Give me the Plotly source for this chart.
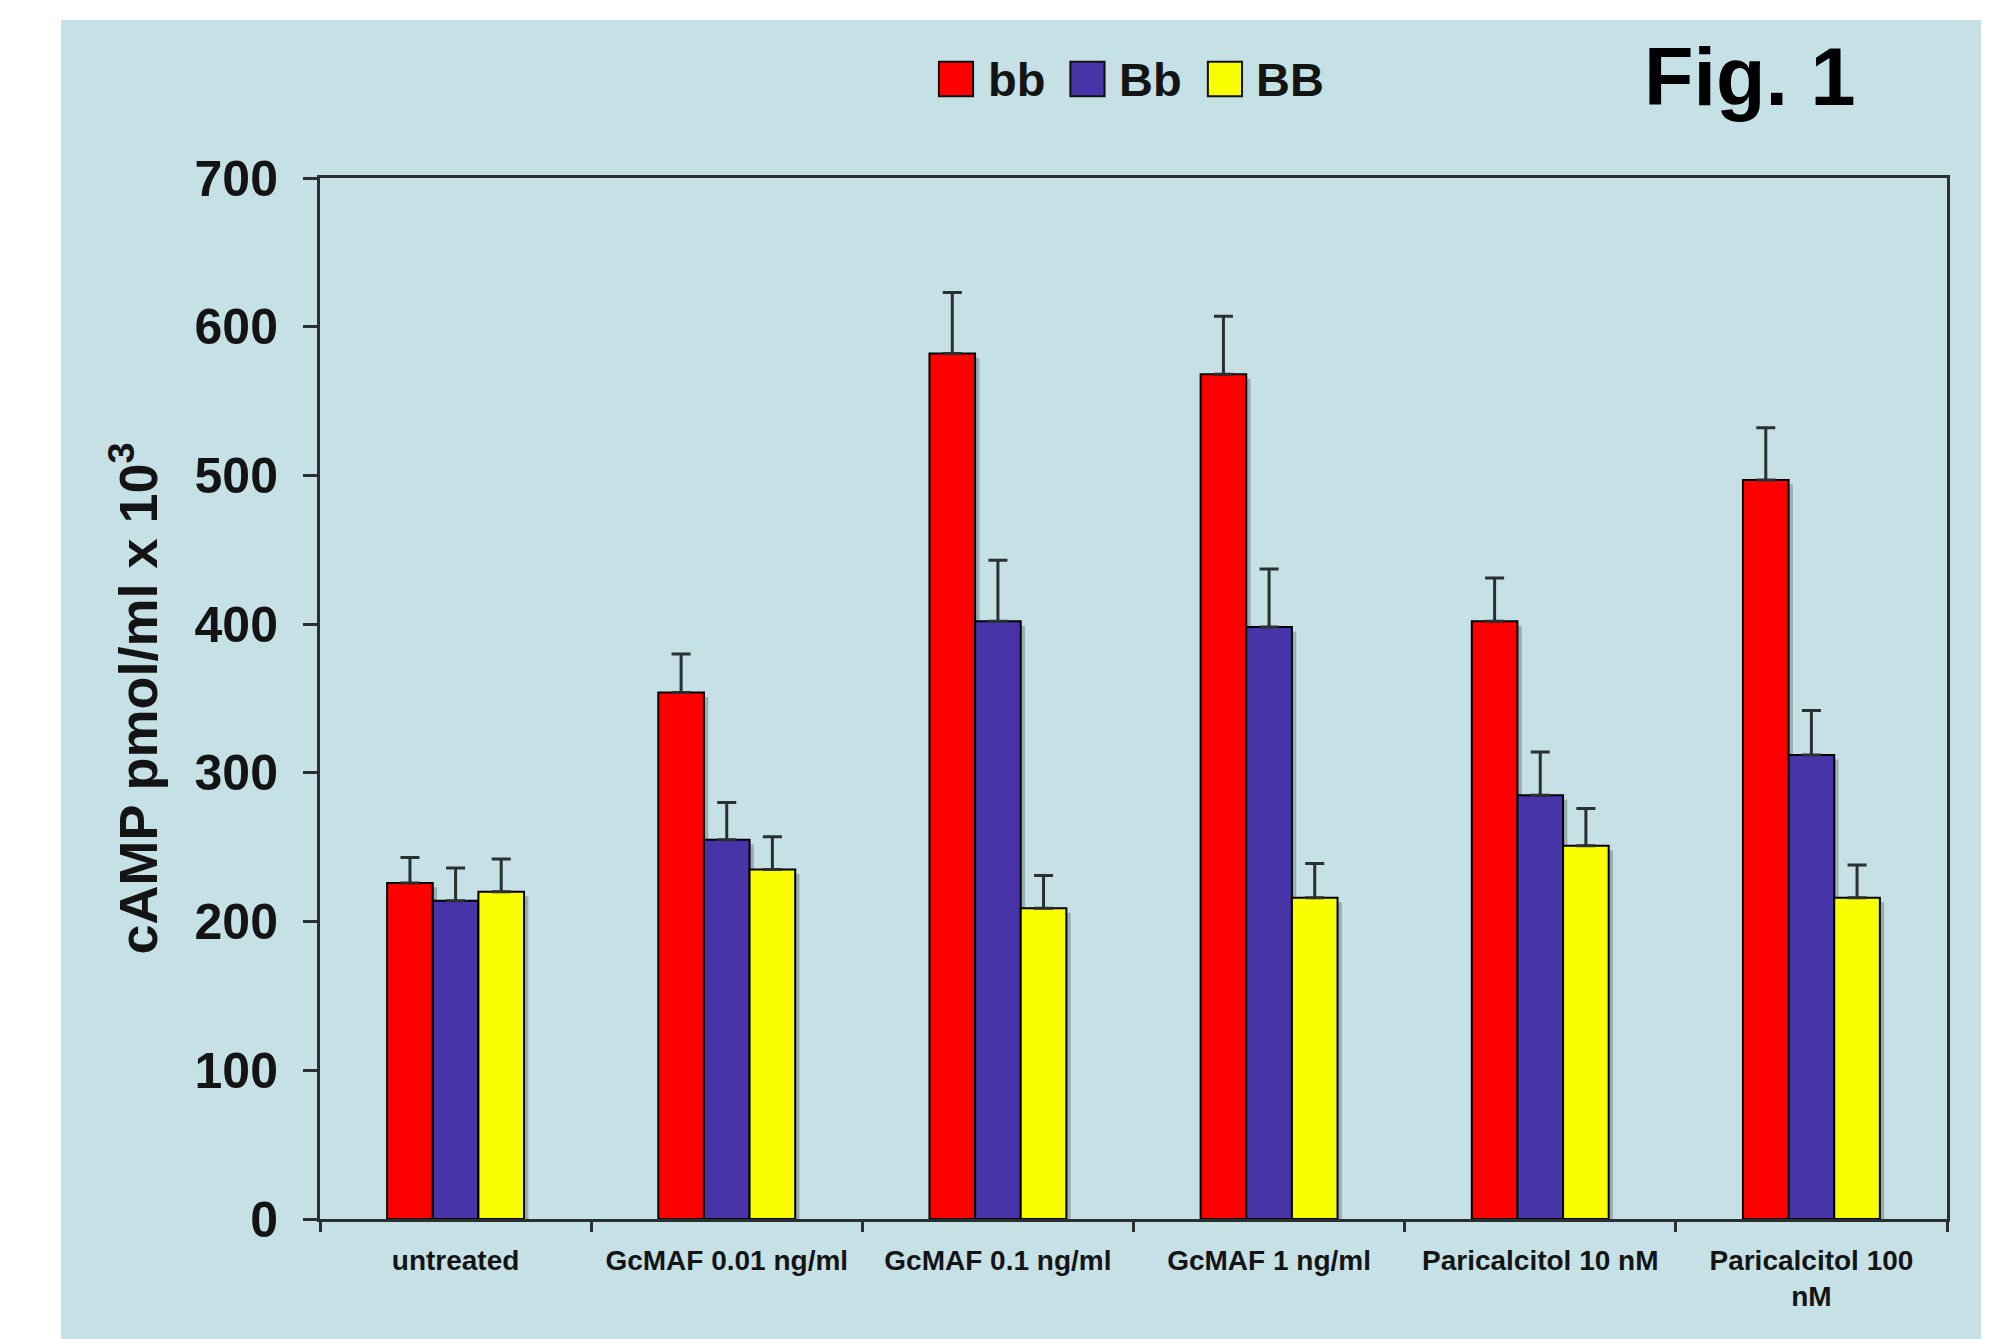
import plotly.graph_objects as go

# Treatment groups along the x axis
categories = [
    "untreated",
    "GcMAF 0.01 ng/ml",
    "GcMAF 0.1 ng/ml",
    "GcMAF 1 ng/ml",
    "Paricalcitol 10 nM",
    "Paricalcitol 100<br>nM",
]

# cAMP (pmol/ml x 10^3), mean and upper error per genotype
bb_mean = [226, 354, 582, 568, 402, 497]
bb_err = [17, 26, 41, 39, 29, 35]
Bb_mean = [214, 255, 402, 398, 285, 312]
Bb_err = [22, 25, 41, 39, 29, 30]
BB_mean = [220, 235, 209, 216, 251, 216]
BB_err = [22, 22, 22, 23, 25, 22]

series_names = ["bb", "Bb", "BB"]
series_means = [bb_mean, Bb_mean, BB_mean]
series_errs = [bb_err, Bb_err, BB_err]
series_colors = ["#FF0000", "#4634A8", "#FAFF00"]

y_ticks = [0, 100, 200, 300, 400, 500, 600, 700]

FONT = "Liberation Sans, Arial, Helvetica, sans-serif"
INK = "#141414"
AXIS = "#2a2f30"
PANEL = "#C5E1E6"

# Bar geometry in category units (three adjacent bars per group)
bar_w = 0.1683
offsets = [-1.5 * bar_w, -0.5 * bar_w, 0.5 * bar_w]
shadow_dx = 0.016

fig = go.Figure()

# soft drop shadows behind the bars
for mean, off in zip(series_means, offsets):
    fig.add_trace(go.Bar(
        x=categories, y=[v - 3 for v in mean],
        width=bar_w, offset=off + shadow_dx,
        marker=dict(color="rgba(70,80,85,0.35)", line=dict(width=0)),
        hoverinfo="skip", showlegend=False,
    ))

for name, mean, err, color, off in zip(series_names, series_means, series_errs,
                                       series_colors, offsets):
    fig.add_trace(go.Bar(
        x=categories, y=mean, name=name,
        width=bar_w, offset=off,
        marker=dict(color=color, line=dict(color="#000000", width=2)),
        error_y=dict(type="data", array=err, arrayminus=[0] * len(err),
                     symmetric=False, color=AXIS, thickness=3, width=9.5),
    ))

# light blue panel behind the whole chart
fig.add_shape(type="rect", xref="paper", yref="paper",
              x0=-0.1592, x1=1.0209, y0=-0.25, y1=1.1518,
              fillcolor=PANEL, line=dict(width=0), layer="below")

# legend: colour swatches followed by labels
swatch_x = [0.3909, 0.4717, 0.5562]
label_x = [0.4095, 0.4900, 0.5742]
legend_y = 1.0951
sw_half_w = 0.0105
sw_half_h = 0.0165
for name, color, sx, lx in zip(series_names, series_colors, swatch_x, label_x):
    fig.add_shape(type="rect", xref="paper", yref="paper",
                  x0=sx - sw_half_w, x1=sx + sw_half_w,
                  y0=legend_y - sw_half_h, y1=legend_y + sw_half_h,
                  fillcolor=color, line=dict(color="#111", width=2))
    fig.add_annotation(xref="paper", yref="paper", x=lx, y=legend_y,
                       text=f"<b>{name}</b>", showarrow=False,
                       font=dict(family=FONT, size=47, color=INK),
                       xanchor="left", yanchor="middle")

fig.add_annotation(xref="paper", yref="paper", x=0.8789, y=1.097,
                   text="<b>Fig. 1</b>", showarrow=False,
                   font=dict(family=FONT, size=81, color="#000"),
                   xanchor="center", yanchor="middle")

fig.update_layout(
    width=1989, height=1339,
    margin=dict(l=320, r=42, t=178, b=120),
    paper_bgcolor="white", plot_bgcolor="rgba(0,0,0,0)",
    barmode="overlay", showlegend=False,
    font=dict(family=FONT, color=INK),
)

fig.update_xaxes(
    type="category", showgrid=False, zeroline=False,
    showline=True, linecolor=AXIS, linewidth=3, mirror=True,
    ticks="outside", tickson="boundaries", ticklen=10, tickwidth=3,
    tickcolor=AXIS, ticklabelstandoff=14,
    tickfont=dict(family=FONT, size=28, color=INK, weight="bold"),
)

fig.update_yaxes(
    range=[0, 700], tickvals=y_ticks, showgrid=False, zeroline=False,
    showline=True, linecolor=AXIS, linewidth=3, mirror=True,
    ticks="outside", ticklen=14, tickwidth=3, tickcolor=AXIS,
    ticklabelstandoff=15,
    tickfont=dict(family=FONT, size=50, color=INK, weight="bold"),
    title=dict(text="cAMP pmol/ml x 10<sup>3</sup>", standoff=20,
               font=dict(family=FONT, size=54, color=INK, weight="bold")),
)

fig.write_html("out.html")
